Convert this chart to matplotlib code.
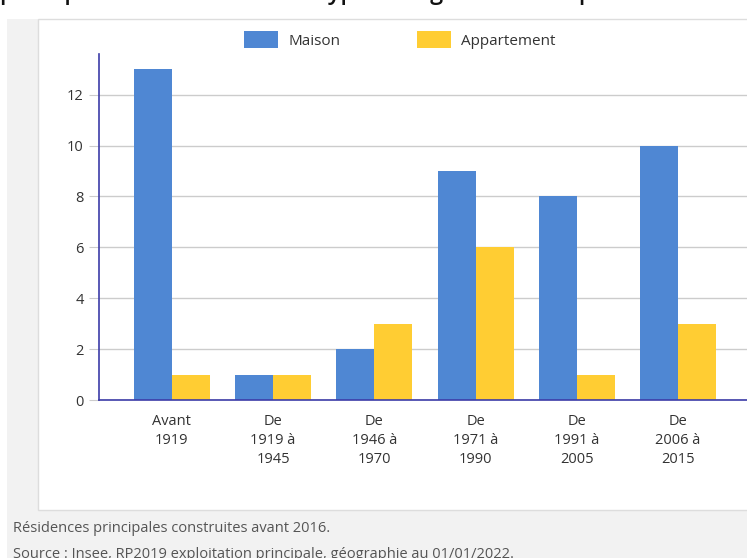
import matplotlib
matplotlib.use("Agg")
import matplotlib.pyplot as plt
from matplotlib.patches import Rectangle
import numpy as np

categories = ["Avant\n1919", "De\n1919 à\n1945", "De\n1946 à\n1970",
              "De\n1971 à\n1990", "De\n1991 à\n2005", "De\n2006 à\n2015"]
maison = [13, 1, 2, 9, 8, 10]
appartement = [1, 1, 3, 6, 1, 3]
series_names = ["Maison", "Appartement"]
yticks = [0, 2, 4, 6, 8, 10, 12]

plt.rcParams['font.family'] = ['Open Sans', 'DejaVu Sans']

W, H = 747, 558
fig = plt.figure(figsize=(W / 100, H / 100), dpi=100, facecolor="white")

def px(x0, y0, x1, y1):
    # pixel box (top-left origin) -> figure fraction rectangle
    return (x0 / W, 1 - y1 / H), (x1 - x0) / W, (y1 - y0) / H

# grey frame and white panel
xy, w, h = px(7, 19, W, H)
fig.patches.append(Rectangle(xy, w, h, transform=fig.transFigure, facecolor="#f2f2f2",
                             edgecolor="none", zorder=-3))
xy, w, h = px(38, 19, W + 2, 510)
fig.patches.append(Rectangle(xy, w, h, transform=fig.transFigure, facecolor="white",
                             edgecolor="#dddddd", linewidth=1, zorder=-2))

# title, cut by the top edge as in the original screenshot
fig.text(0.0, 1 + 1 / H, "principales en 2019 selon le type de logement et la période d'achèvement",
         fontsize=17, fontweight="semibold", color="#111111", va="baseline", ha="left")

ax = fig.add_axes([99 / W, 1 - 400 / H, 1 - 99 / W, (400 - 54) / H])
ax.set_facecolor("none")

x = np.arange(len(categories))
bw = 0.375
ax.bar(x - bw / 2, maison, bw, color="#4f87d3", label=series_names[0], zorder=3)
ax.bar(x + bw / 2, appartement, bw, color="#ffcd33", label=series_names[1], zorder=3)

ax.set_xlim(-0.72, 5.68)
ax.set_ylim(0, 13.6)
ax.set_yticks(yticks)
ax.set_xticks(x)
ax.set_xticklabels(categories, fontsize=10.5, color="#333333", linespacing=1.35)
ax.tick_params(axis="x", length=0, pad=10)
ax.tick_params(axis="y", length=7, color="#cccccc", labelsize=10.5, labelcolor="#333333", pad=4)
ax.yaxis.grid(True, color="#cccccc", linewidth=1, zorder=0)

for s in ["top", "right"]:
    ax.spines[s].set_visible(False)
for s in ["left", "bottom"]:
    ax.spines[s].set_color("#3c3ca8")
    ax.spines[s].set_linewidth(1.2)
    ax.spines[s].set_zorder(4)

ax.legend(loc="center", bbox_to_anchor=(400 / W, 1 - 40 / H), bbox_transform=fig.transFigure,
          ncol=2, frameon=False, fontsize=11, handlelength=2.2, handleheight=1.3,
          columnspacing=5.0, handletextpad=0.7, labelcolor="#333333")

fig.text(13 / W, 1 - 527 / H, "Résidences principales construites avant 2016.",
         fontsize=10.5, color="#555555", va="center_baseline", ha="left")
fig.text(13 / W, 1 - 552 / H, "Source : Insee, RP2019 exploitation principale, géographie au 01/01/2022.",
         fontsize=10.5, color="#555555", va="center_baseline", ha="left")

fig.savefig("out.png", dpi=100, facecolor=fig.get_facecolor())
